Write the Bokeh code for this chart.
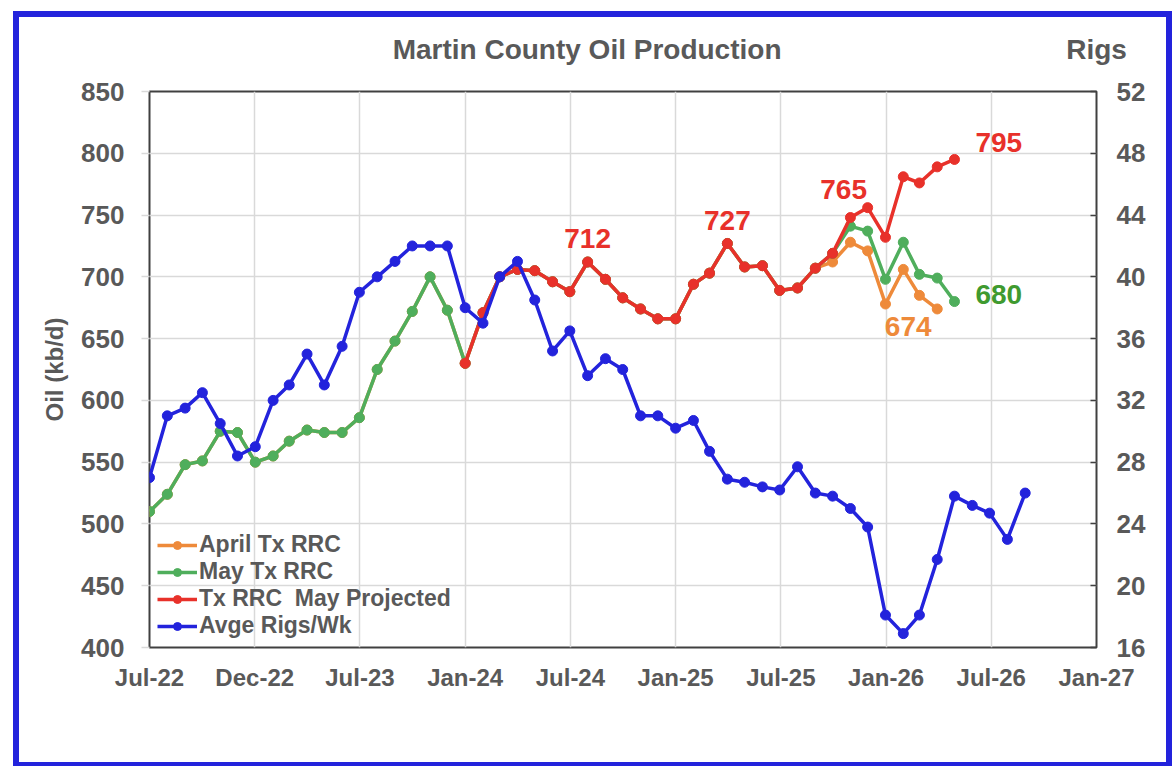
import pandas as pd
from bokeh.plotting import figure
from bokeh.models import (Range1d, LinearAxis, FixedTicker, DatetimeTickFormatter,
                          Legend, LegendItem, Label)
from bokeh.embed import file_html
from bokeh.resources import INLINE

# ---------------- data ----------------
months = pd.date_range("2022-07-01", periods=51, freq="MS")   # Jul-22 .. Sep-26

rigs = [27.0, 31.0, 31.5, 32.5, 30.5, 28.4,
        29.0, 32.0, 33.0, 35.0, 33.0, 35.5, 39.0, 40.0, 41.0, 42.0, 42.0, 42.0,
        38.0, 37.0, 40.0, 41.0, 38.5, 35.2, 36.5, 33.6, 34.7, 34.0, 31.0, 31.0,
        30.2, 30.7, 28.7, 26.9, 26.7, 26.4, 26.2, 27.7, 26.0, 25.8, 25.0, 23.8,
        18.1, 16.9, 18.1, 21.7, 25.8, 25.2, 24.7, 23.0, 26.0]

# May Tx RRC: Jul-22 .. May-26
may_rrc = [510, 524, 548, 551, 575, 574,
           550, 555, 567, 576, 574, 574, 586, 625, 648, 672, 700, 673,
           630, 671, 700, 706, 705, 696, 688, 712, 698, 683, 674, 666,
           666, 694, 703, 727, 708, 709, 689, 691, 707, 719, 741, 737,
           698, 728, 702, 699, 680]

# April Tx RRC: Jul-22 .. Apr-26
april_rrc = [510, 524, 548, 551, 575, 574,
             550, 555, 567, 576, 574, 574, 586, 625, 648, 672, 700, 673,
             630, 671, 700, 706, 705, 696, 688, 712, 698, 683, 674, 666,
             666, 694, 703, 727, 708, 709, 689, 691, 707, 712, 728, 721,
             678, 706, 685, 674]

# Tx RRC May Projected: Jan-24 .. May-26
projected = [630, 671, 700, 706, 705, 696, 688, 712, 698, 683, 674, 666,
             666, 694, 703, 727, 708, 709, 689, 691, 707, 719, 748, 756,
             732, 781, 776, 789, 795]
projected_start = 18  # index of Jan-24 in months

tick_dates = ["2022-07-01", "2022-12-31", "2023-07-02", "2024-01-01", "2024-07-02",
              "2025-01-01", "2025-07-03", "2026-01-02", "2026-07-04", "2027-01-03"]
oil_ticks = [400, 450, 500, 550, 600, 650, 700, 750, 800, 850]
rig_ticks = [16, 20, 24, 28, 32, 36, 40, 44, 48, 52]

legend_labels = ["April Tx RRC", "May Tx RRC", "Tx RRC  May Projected", "Avge Rigs/Wk"]
title_text = "Martin County Oil Production"
title_anchor = "2024-07-31"        # horizontal centre of the title
rig_axis_title = "Rigs"

# ---------------- styling ----------------
FONT = "Liberation Sans"
GRAY = "#595959"
BLUE = "#2323DC"
RED = "#E8312A"
GREEN = "#4FAE5C"
DKGREEN = "#3F9A2F"
ORANGE = "#EE8A3A"


def ms(d):
    return pd.Timestamp(d).value / 1e6


tick_ms = [ms(d) for d in tick_dates]
xs = list(months)
x_may = xs[:len(may_rrc)]
x_apr = xs[:len(april_rrc)]
x_proj = xs[projected_start:projected_start + len(projected)]

p = figure(frame_width=947, frame_height=556, x_axis_type="datetime",
           x_range=Range1d(tick_ms[0], tick_ms[-1]),
           y_range=Range1d(oil_ticks[0], oil_ticks[-1]),
           output_backend="svg", toolbar_location=None,
           min_border_left=130, min_border_right=70, min_border_top=74,
           min_border_bottom=115,
           styles={"border": "6px solid " + BLUE, "margin-left": "13px",
                   "margin-top": "11px"})
p.background_fill_color = "white"
p.border_fill_color = "white"
p.outline_line_color = "#404040"
p.outline_line_width = 2

p.extra_y_ranges = {"rigs": Range1d(rig_ticks[0], rig_ticks[-1])}

# grids
p.xgrid.ticker = FixedTicker(ticks=tick_ms)
p.ygrid.ticker = FixedTicker(ticks=oil_ticks)
for g in (p.xgrid, p.ygrid):
    g.grid_line_color = "#D9D9D9"
    g.grid_line_width = 1.5

# bottom axis
xa = p.xaxis[0]
xa.ticker = FixedTicker(ticks=tick_ms)
xa.formatter = DatetimeTickFormatter(days="%b-%y", months="%b-%y", years="%b-%y",
                                     hours="%b-%y", minutes="%b-%y", seconds="%b-%y",
                                     milliseconds="%b-%y", microseconds="%b-%y",
                                     hourmin="%b-%y", minsec="%b-%y")
xa.axis_line_color = None
xa.major_tick_line_color = None
xa.minor_tick_line_color = None
xa.major_label_standoff = 10
xa.major_label_text_font = FONT
xa.major_label_text_font_size = "24px"
xa.major_label_text_font_style = "bold"
xa.major_label_text_color = GRAY

# left axis
ya = p.yaxis[0]
ya.ticker = FixedTicker(ticks=oil_ticks)
ya.axis_line_color = None
ya.major_tick_line_color = "#D9D9D9"
ya.major_tick_line_width = 1.5
ya.major_tick_out = 8
ya.major_tick_in = 0
ya.minor_tick_line_color = None
ya.major_label_standoff = 17
ya.major_label_text_font = FONT
ya.major_label_text_font_size = "26px"
ya.major_label_text_font_style = "bold"
ya.major_label_text_color = GRAY
ya.axis_label = "Oil (kb/d)"
ya.axis_label_text_font = FONT
ya.axis_label_text_font_size = "24px"
ya.axis_label_text_font_style = "bold"
ya.axis_label_text_color = GRAY
ya.axis_label_standoff = 10

# right axis
ra = LinearAxis(y_range_name="rigs", ticker=FixedTicker(ticks=rig_ticks))
ra.axis_line_color = None
ra.major_tick_line_color = "#404040"
ra.major_tick_line_width = 1.5
ra.major_tick_in = 6
ra.major_tick_out = 0
ra.minor_tick_line_color = None
ra.major_label_standoff = 20
ra.major_label_text_font = FONT
ra.major_label_text_font_size = "26px"
ra.major_label_text_font_style = "bold"
ra.major_label_text_color = GRAY
p.add_layout(ra, "right")

# header row above the frame: chart title and the "Rigs" heading of the right axis
head_ticks = [ms(title_anchor), tick_ms[-1]]
head = LinearAxis(ticker=FixedTicker(ticks=head_ticks),
                  major_label_overrides={head_ticks[0]: title_text,
                                         head_ticks[1]: rig_axis_title})
head.axis_line_color = None
head.major_tick_line_color = None
head.minor_tick_line_color = None
head.major_tick_in = 0
head.major_tick_out = 0
head.major_label_standoff = 27
head.major_label_text_font = FONT
head.major_label_text_font_size = "28px"
head.major_label_text_font_style = "bold"
head.major_label_text_color = GRAY
p.add_layout(head, "above")

# series (drawn: orange, green, red, blue on top)
LW = 3.5
MS = 10
l_apr = p.line(x_apr, april_rrc, line_color=ORANGE, line_width=LW)
s_apr = p.scatter(x_apr, april_rrc, size=MS, fill_color=ORANGE, line_color=ORANGE)
l_may = p.line(x_may, may_rrc, line_color=GREEN, line_width=LW)
s_may = p.scatter(x_may, may_rrc, size=MS, fill_color=GREEN, line_color=GREEN)
l_proj = p.line(x_proj, projected, line_color=RED, line_width=LW)
s_proj = p.scatter(x_proj, projected, size=MS, fill_color=RED, line_color=RED)
l_rig = p.line(xs, rigs, line_color=BLUE, line_width=LW, y_range_name="rigs")
s_rig = p.scatter(xs, rigs, size=MS, fill_color=BLUE, line_color=BLUE, y_range_name="rigs")

# data labels
def add_label(xv, yv, text, color, dx, dy, align):
    p.add_layout(Label(x=ms(xv), y=yv, text=text, x_offset=dx, y_offset=dy,
                       text_align=align, text_baseline="alphabetic",
                       text_font=FONT, text_font_size="28px", text_font_style="bold",
                       text_color=color))

add_label(x_proj[7], projected[7], "712", RED, 0, 24, "center")
add_label(x_proj[15], projected[15], "727", RED, 0, 23, "center")
add_label(x_proj[23], projected[23], "765", RED, -24, 18, "center")
add_label(x_proj[-1], projected[-1], "795", RED, 21, 17, "left")
add_label(x_may[-1], may_rrc[-1], "680", DKGREEN, 21, 7, "left")
add_label(x_apr[-1], april_rrc[-1], "674", ORANGE, -29, -18, "center")

# legend, in the empty lower-left corner of the plot area
legend = Legend(items=[
    LegendItem(label=legend_labels[0], renderers=[l_apr, s_apr]),
    LegendItem(label=legend_labels[1], renderers=[l_may, s_may]),
    LegendItem(label=legend_labels[2], renderers=[l_proj, s_proj]),
    LegendItem(label=legend_labels[3], renderers=[l_rig, s_rig]),
], orientation="vertical", location="bottom_left")
legend.label_text_font = FONT
legend.label_text_font_size = "23px"
legend.label_text_font_style = "bold"
legend.label_text_color = GRAY
legend.glyph_width = 40
legend.glyph_height = 20
legend.label_standoff = 2
legend.spacing = 0
legend.padding = 4
legend.margin = 8
legend.border_line_color = None
legend.background_fill_alpha = 0
p.add_layout(legend)

open("out.html", "w").write(file_html(p, INLINE))
